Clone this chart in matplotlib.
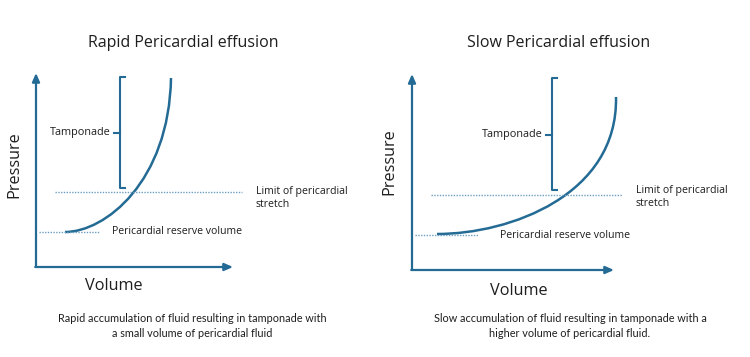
import matplotlib
matplotlib.use("Agg")
import matplotlib.pyplot as plt
from matplotlib.path import Path
from matplotlib.patches import PathPatch

# ---- data (pixel units of a 750x357 canvas) ----
titles = ["Rapid Pericardial effusion", "Slow Pericardial effusion"]
captions = ["Rapid accumulation of fluid resulting in tamponade with\na small volume of pericardial fluid",
            "Slow accumulation of fluid resulting in tamponade with a\nhigher volume of pericardial fluid."]
# Bezier control points of the pressure-volume curves
rapid_ctrl_x = [65, 105, 169, 171]
rapid_ctrl_y = [232, 232, 182, 78]
slow_ctrl_x = [437, 510, 618, 616]
slow_ctrl_y = [234, 234, 195, 97]

axes_frames = [(36, 267, 233, 73), (412, 270, 614, 74)]
limit_lines = [(55, 242, 192), (431, 622, 195)]
reserve_lines = [(39, 100, 232), (415, 478, 235)]
brackets = [(120, 77, 188, 133), (552, 78, 190, 135)]

blue = "#236B94"
dot = "#6E9FC3"
txt = "#1e1e1e"

fig = plt.figure(figsize=(7.5, 3.57), dpi=100)
ax = fig.add_axes([0, 0, 1, 1])
ax.set_xlim(0, 750)
ax.set_ylim(357, 0)
ax.axis("off")

for (x0, yb, xe, yt) in axes_frames:
    ax.annotate("", xy=(x0, yt), xytext=(x0, yb),
                arrowprops=dict(arrowstyle="-|>,head_length=0.5,head_width=0.22", color=blue, lw=1.6, shrinkA=0, shrinkB=0))
    ax.annotate("", xy=(xe, yb), xytext=(x0 - 0.8, yb),
                arrowprops=dict(arrowstyle="-|>,head_length=0.5,head_width=0.22", color=blue, lw=1.6, shrinkA=0, shrinkB=0))

for (xa, xb, y) in limit_lines + reserve_lines:
    ax.plot([xa, xb], [y, y], color=dot, lw=1.0, ls=(0, (1, 1)))

codes = [Path.MOVETO, Path.CURVE4, Path.CURVE4, Path.CURVE4]
for cx, cy in [(rapid_ctrl_x, rapid_ctrl_y), (slow_ctrl_x, slow_ctrl_y)]:
    p = Path(list(zip(cx, cy)), codes)
    ax.add_patch(PathPatch(p, facecolor="none", edgecolor=blue, lw=1.8))

for (bx, yt, yb, ym) in brackets:
    ax.plot([bx + 5, bx, bx, bx + 5], [yt, yt, yb, yb], color=blue, lw=1.5)
    ax.plot([bx - 6, bx], [ym, ym], color=blue, lw=1.5)
    ax.text(bx - 9, ym, "Tamponade", ha="right", va="center", fontsize=7.8, color=txt, family="Open Sans")

fs_small = 7.6
ax.text(112, 232, "Pericardial reserve volume", ha="left", va="center", fontsize=fs_small, color=txt, family="Open Sans")
ax.text(500, 235, "Pericardial reserve volume", ha="left", va="center", fontsize=fs_small, color=txt, family="Open Sans")
ax.text(256, 198, "Limit of pericardial\nstretch", ha="left", va="center", fontsize=fs_small, color=txt, family="Open Sans", linespacing=1.35)
ax.text(636, 197, "Limit of pericardial\nstretch", ha="left", va="center", fontsize=fs_small, color=txt, family="Open Sans", linespacing=1.35)

ax.text(14, 165, "Pressure", rotation=90, ha="center", va="center", fontsize=11.7, color=txt, family="Open Sans")
ax.text(389, 162, "Pressure", rotation=90, ha="center", va="center", fontsize=11.7, color=txt, family="Open Sans")
ax.text(114, 286, "Volume", ha="center", va="center", fontsize=11.7, color=txt, family="Open Sans")
ax.text(519, 291, "Volume", ha="center", va="center", fontsize=11.7, color=txt, family="Open Sans")

ax.text(183, 43, titles[0], ha="center", va="center", fontsize=11.5, color=txt, family="Open Sans")
ax.text(559, 43, titles[1], ha="center", va="center", fontsize=11.5, color=txt, family="Open Sans")

ax.text(192, 326, captions[0], ha="center", va="center", fontsize=7.8, color=txt, family="Lato", linespacing=1.5)
ax.text(570, 326, captions[1], ha="center", va="center", fontsize=7.8, color=txt, family="Lato", linespacing=1.5)

fig.savefig("out.png", dpi=100)
